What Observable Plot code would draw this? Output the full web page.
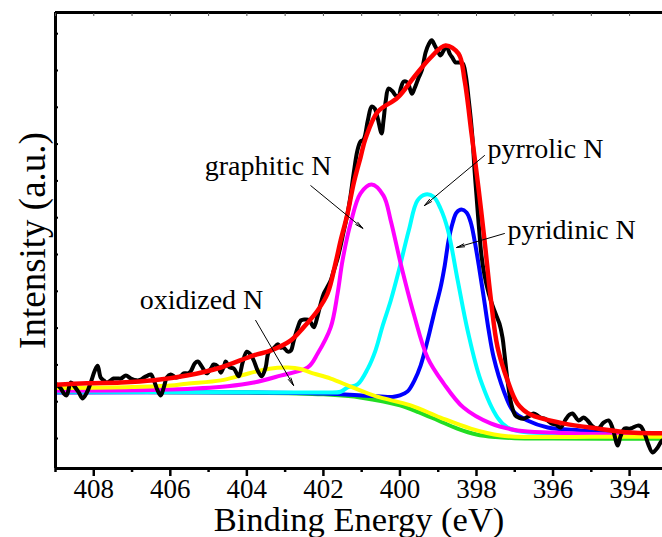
<!DOCTYPE html>
<html>
<head>
<meta charset="utf-8">
<script src="https://cdn.jsdelivr.net/npm/d3@7"></script>
<script src="https://cdn.jsdelivr.net/npm/@observablehq/plot@0.6"></script>
<style>
  html, body { margin: 0; padding: 0; background: #fff; overflow: hidden; }
  #chart { width: 662px; height: 537px; }
</style>
</head>
<body>
<div id="chart"></div>
<script>
// N 1s spectrum: binding energy (eV) vs intensity (a.u., thousands of counts)
const xDomain = [409, 393.14];
const yDomain = [0.185, 12.576];
const majorTicks = [408, 406, 404, 402, 400, 398, 396, 394];
const minorTicks = [409, 407, 405, 403, 401, 399, 397, 395];
const topTicks = [409, 408, 407, 406, 405, 404, 403, 402, 401, 400, 399, 398, 397, 396, 395, 394];
const yTicks = [1, 2, 3, 4, 5, 6, 7, 8, 9, 10, 11, 12];

// measured spectrum
const raw = [
  [409.00,2.49],[408.86,2.36],[408.78,2.22],[408.71,2.17],[408.60,2.52],[408.50,2.41],[408.39,2.25],[408.29,2.09],
  [408.18,2.25],[408.08,2.52],[407.97,2.85],[407.90,2.98],[407.82,2.66],[407.74,2.58],[407.66,2.52],[407.56,2.58],
  [407.48,2.63],[407.37,2.63],[407.29,2.63],[407.16,2.71],[407.03,2.63],[406.88,2.58],[406.77,2.60],[406.69,2.66],
  [406.59,2.71],[406.51,2.74],[406.43,2.58],[406.33,2.30],[406.25,2.17],[406.17,2.39],[406.09,2.66],[405.99,2.74],
  [405.86,2.66],[405.73,2.69],[405.65,2.77],[405.54,2.77],[405.47,2.82],[405.36,3.04],[405.28,3.09],[405.18,2.96],
  [405.05,2.77],[404.94,2.90],[404.87,3.01],[404.76,2.96],[404.68,2.79],[404.60,2.96],[404.55,3.09],[404.45,2.93],
  [404.34,2.90],[404.21,2.69],[404.11,3.07],[404.00,3.36],[403.90,3.28],[403.82,3.12],[403.72,2.85],[403.61,2.69],
  [403.51,2.93],[403.43,3.34],[403.30,3.45],[403.19,3.56],[403.12,3.47],[403.04,3.47],[402.93,3.36],[402.85,3.39],
  [402.78,3.64],[402.67,4.02],[402.59,4.21],[402.52,4.23],[402.41,4.23],[402.33,4.15],[402.25,4.02],[402.15,4.34],
  [402.07,4.67],[401.99,4.94],[401.89,5.13],[401.81,5.29],[401.73,5.56],[401.63,5.89],[401.55,6.24],[401.47,6.63],
  [401.37,7.11],[401.29,7.60],[401.21,8.20],[401.11,8.83],[401.03,9.07],[400.95,9.12],[400.84,9.64],[400.74,10.02],
  [400.66,9.97],[400.58,9.70],[400.48,9.29],[400.43,9.64],[400.37,10.18],[400.30,10.51],[400.19,10.43],[400.11,10.32],
  [400.03,10.32],[399.98,10.51],[399.90,10.70],[399.80,10.67],[399.69,10.37],[399.62,10.51],[399.51,10.81],[399.43,11.00],
  [399.33,11.49],[399.25,11.71],[399.17,11.82],[399.09,11.68],[399.02,11.54],[398.94,11.41],[398.86,11.54],[398.78,11.65],
  [398.70,11.46],[398.62,11.33],[398.55,11.22],[398.47,11.22],[398.36,11.19],[398.28,10.86],[398.21,10.27],[398.15,9.69],
  [398.10,9.10],[398.05,8.28],[398.00,7.60],[397.94,6.79],[397.87,5.97],[397.79,5.43],[397.68,4.94],[397.58,4.61],
  [397.47,4.31],[397.40,4.12],[397.32,3.74],[397.27,3.31],[397.19,2.58],[397.11,2.03],[397.06,1.82],[396.98,1.62],
  [396.90,1.57],[396.77,1.54],[396.64,1.60],[396.51,1.68],[396.40,1.62],[396.33,1.57],[396.22,1.54],[396.14,1.49],
  [396.04,1.41],[395.93,1.38],[395.80,1.30],[395.67,1.52],[395.57,1.65],[395.49,1.68],[395.33,1.49],[395.20,1.57],
  [395.10,1.49],[394.99,1.35],[394.89,1.27],[394.81,1.27],[394.68,1.43],[394.55,1.49],[394.45,1.30],[394.31,0.81],
  [394.24,1.05],[394.13,1.27],[393.98,1.27],[393.79,1.35],[393.71,1.33],[393.61,1.14],[393.51,0.84],[393.40,0.62],
  [393.27,0.75],[393.14,0.95],[393.00,0.90]
];

// fitted envelope
const envelope = [
  [409.00,2.46],[408.18,2.50],[407.29,2.52],[406.43,2.58],[405.57,2.71],[404.68,2.93],[403.82,3.26],[403.38,3.39],
  [402.86,3.66],[402.52,4.02],[402.15,4.48],[401.89,4.94],[401.68,5.78],[401.55,6.38],[401.37,7.11],[401.21,7.93],
  [401.03,8.64],[400.90,9.15],[400.58,9.88],[400.06,10.26],[399.64,10.81],[399.20,11.35],[398.81,11.68],[398.47,11.46],
  [398.31,10.73],[398.13,9.29],[397.95,7.82],[397.79,6.38],[397.63,4.83],[397.45,3.48],[397.19,2.58],[396.93,1.95],
  [396.59,1.65],[395.73,1.41],[394.84,1.27],[393.98,1.16],[393.14,1.14],[393.00,1.13]
];

// Shirley background
const background = [
  [409.0,2.28],[406.0,2.26],[404.0,2.25],[402.0,2.20],[401.0,2.11],[400.0,1.90],[399.5,1.71],[399.0,1.49],
  [398.5,1.27],[398.0,1.11],[397.5,1.04],[397.0,1.01],[396.0,1.00],[393.0,0.99]
];

// pyridinic N component
const pyridinic = [
  [409.0,2.25],[404.0,2.25],[402.0,2.22],[401.0,2.17],[400.5,2.14],[400.2,2.13],[400.0,2.17],[399.80,2.28],
  [399.62,2.58],[399.46,2.98],[399.28,3.66],[399.09,4.48],[398.94,5.10],[398.83,5.70],[398.73,6.38],[398.62,6.87],
  [398.52,7.14],[398.39,7.22],[398.26,7.14],[398.15,6.87],[398.05,6.38],[397.94,5.70],[397.81,4.83],[397.68,3.93],
  [397.55,3.20],[397.29,2.30],[397.03,1.73],[396.67,1.49],[396.14,1.30],[395.28,1.22],[394.24,1.16],[393.0,1.14]
];

// pyrrolic N component
const pyrrolic = [
  [409.0,2.27],[404.0,2.26],[402.0,2.25],[401.55,2.27],[401.37,2.39],[401.11,2.47],[400.84,2.90],[400.64,3.39],
  [400.45,4.07],[400.24,4.75],[400.03,5.56],[399.77,6.65],[399.54,7.47],[399.33,7.63],[399.12,7.57],[398.94,7.25],
  [398.75,6.68],[398.49,5.29],[398.23,3.93],[397.89,2.58],[397.45,1.57],[397.19,1.30],[396.85,1.19],[396.0,1.14],
  [393.0,1.07]
];

// graphitic N component
const graphitic = [
  [409.0,2.30],[406.0,2.33],[404.5,2.42],[403.82,2.52],[403.12,2.71],[402.41,2.93],[402.15,3.31],[401.81,4.02],
  [401.63,4.94],[401.50,5.84],[401.29,6.84],[401.03,7.66],[400.74,7.90],[400.43,7.60],[400.24,6.92],[399.98,5.75],
  [399.64,4.39],[399.28,3.20],[398.86,2.50],[398.34,1.84],[397.63,1.41],[396.93,1.22],[396.0,1.16],[395.0,1.12],
  [393.0,1.08]
];

// oxidized N component
const oxidized = [
  [409.0,2.37],[407.0,2.40],[406.0,2.44],[405.57,2.49],[404.68,2.58],[404.16,2.71],[403.64,2.85],[403.2,2.92],
  [402.93,2.93],[402.6,2.89],[402.33,2.79],[401.81,2.63],[401.29,2.41],[400.77,2.20],[400.50,2.11],[399.72,1.90],
  [398.94,1.57],[398.15,1.27],[397.37,1.08],[396.59,1.04],[395.0,1.05],[393.0,1.05]
];

// peak labels: text, energy, intensity at baseline
const labels = [
  ["graphitic N", 405.10, 8.15],
  ["pyrrolic N", 397.71, 8.61],
  ["pyridinic N", 397.19, 6.43],
  ["oxidized N", 406.80, 4.51]
];
// leader arrows: from (E1, I1) to (E2, I2)
const arrows = [
  [402.33, 7.87, 400.97, 6.71],
  [397.79, 8.69, 399.36, 7.33],
  [397.27, 6.57, 398.52, 6.19],
  [403.77, 4.21, 402.78, 2.44]
];

const serif = "'Liberation Serif', 'Times New Roman', serif";
const line = (data, stroke, strokeWidth) =>
  Plot.line(data, {x: d => d[0], y: d => d[1], stroke, strokeWidth, curve: "catmull-rom", clip: true});

const chart = Plot.plot({
  width: 662,
  height: 537,
  marginLeft: 55,
  marginRight: 0,
  marginTop: 12,
  marginBottom: 69,
  style: {fontFamily: serif, background: "#fff", overflow: "hidden"},
  x: {domain: xDomain},
  y: {domain: yDomain},
  marks: [
    line(background, "#22dd22", 4),
    line(pyridinic, "#0000ff", 4),
    line(pyrrolic, "#00ffff", 4),
    line(graphitic, "#ff00ff", 4),
    line(oxidized, "#ffff00", 4),
    line(raw, "#000000", 4),
    line(envelope, "#ff0000", 4.5),
    Plot.arrow(arrows, {x1: d => d[0], y1: d => d[1], x2: d => d[2], y2: d => d[3],
      stroke: "#000", strokeWidth: 1, headLength: 12, headAngle: 22}),
    Plot.text(labels, {x: d => d[1], y: d => d[2], text: d => d[0], textAnchor: "start",
      lineAnchor: "bottom", fontSize: 28, fill: "#000"}),
    // frame spines (right edge lies outside the view)
    Plot.ruleX([xDomain[0]], {stroke: "#000", strokeWidth: 3}),
    Plot.ruleY([yDomain[1]], {stroke: "#000", strokeWidth: 3}),
    Plot.ruleY([yDomain[0]], {stroke: "#000", strokeWidth: 3}),
    Plot.axisX({anchor: "bottom", ticks: majorTicks, tickSize: 8, tickPadding: 2, strokeWidth: 2.5,
      fontSize: 27, tickFormat: d => String(d), label: null, color: "#000"}),
    Plot.axisX({anchor: "bottom", ticks: minorTicks, tickSize: 4, strokeWidth: 2.5,
      fill: "none", label: null}),
    Plot.axisX({anchor: "top", ticks: topTicks, tickSize: -3, strokeWidth: 1, stroke: "#555",
      fill: "none", label: null}),
    Plot.axisY({anchor: "left", ticks: yTicks, tickSize: -3, strokeWidth: 2,
      fill: "none", label: null}),
    Plot.text(["Binding Energy (eV)"], {frameAnchor: "bottom", lineAnchor: "bottom", dy: 62,
      fontSize: 34.5, fill: "#000"}),
    Plot.text(["Intensity (a.u.)"], {frameAnchor: "left", textAnchor: "middle", lineAnchor: "bottom",
      rotate: -90, dx: -11, fontSize: 37, fill: "#000"})
  ]
});

document.getElementById("chart").appendChild(chart);
</script>
</body>
</html>
